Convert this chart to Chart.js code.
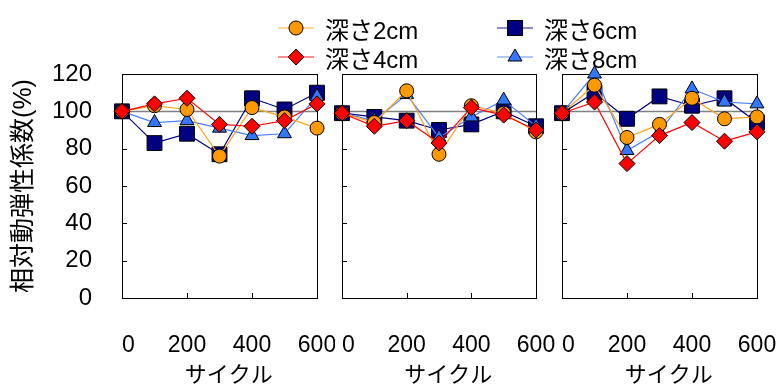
<!DOCTYPE html>
<html>
<head>
<meta charset="utf-8">
<script src="https://cdn.jsdelivr.net/npm/chart.js@4.4.0/dist/chart.umd.min.js"></script>
<style>
  body { margin: 0; background: #fff; }
  #wrap { position: relative; width: 782px; height: 387px; font-family: "Liberation Sans", "Noto Sans CJK JP", sans-serif; }
  .panel { position: absolute; top: 0; }
  .lg { position: absolute; height: 28px; display: flex; align-items: center; font-size: 24px; color: #000; white-space: nowrap; }
  .lg svg { margin-right: 11px; }
</style>
</head>
<body>
<div id="wrap">
  <canvas id="c1" class="panel" style="left:0" width="335" height="387"></canvas>
  <canvas id="c2" class="panel" style="left:322px" width="234" height="387"></canvas>
  <canvas id="c3" class="panel" style="left:542px" width="240" height="387"></canvas>
</div>
<script>
// cycles (x) and tick values
const cycles = [0, 100, 200, 300, 400, 500, 600];
const xTicks = [0, 200, 400, 600];
const yTicks = [0, 20, 40, 60, 80, 100, 120];

const seriesNames = ['深さ2cm', '深さ4cm', '深さ6cm', '深さ8cm'];

// panel 1
const p1Depth2 = [100, 103, 101, 76, 102, 97, 91];
const p1Depth4 = [100, 104, 107, 93, 92, 95, 104];
const p1Depth6 = [100, 83, 88, 77, 107, 101, 110];
const p1Depth8 = [100, 94, 95, 91, 87, 88, 108];

// panel 2
const p2Depth2 = [99, 94, 111, 77, 103, 99, 89];
const p2Depth4 = [99, 92, 95, 83, 102, 98, 90];
const p2Depth6 = [99, 97, 95, 90, 93, 100, 92];
const p2Depth8 = [99, 95, 109, 86, 97, 106, 92];

// panel 3
const p3Depth2 = [99, 114, 86, 93, 107, 96, 97];
const p3Depth4 = [99, 105, 72, 87, 94, 84, 89];
const p3Depth6 = [99, 110, 96, 108, 103, 107, 94];
const p3Depth8 = [99, 120, 79, 89, 112, 105, 104];

const styles = [
  { line: '#ffa31a', fill: '#ff9900', point: 'circle', r: 7, order: 2 },
  { line: '#ff0000', fill: '#ff0000', point: 'rectRot', r: 8, order: 1 },
  { line: '#000080', fill: '#000080', point: 'rect', r: 10.5, order: 4 },
  { line: '#4d80ff', fill: '#3377ff', point: 'triangle', r: 8, order: 3 }
];

const font = '"Liberation Sans", "Noto Sans CJK JP", sans-serif';

// frame, inward ticks and the 100% reference line
const framePlugin = {
  id: 'frame',
  beforeDatasetsDraw(chart) {
    const { ctx, chartArea: a, scales: { x, y } } = chart;
    ctx.save();
    ctx.strokeStyle = '#808080';
    ctx.lineWidth = 1.5;
    const y100 = Math.round(y.getPixelForValue(100)) + 0.5;
    ctx.beginPath();
    ctx.moveTo(a.left, y100);
    ctx.lineTo(a.right, y100);
    ctx.stroke();

    ctx.strokeStyle = '#000';
    ctx.lineWidth = 1;
    ctx.strokeRect(Math.round(a.left) + 0.5, Math.round(a.top) + 0.5, Math.round(a.right - a.left), Math.round(a.bottom - a.top));
    ctx.beginPath();
    yTicks.forEach(v => {
      const py = Math.round(y.getPixelForValue(v)) + 0.5;
      ctx.moveTo(a.left, py);
      ctx.lineTo(a.left + 5, py);
    });
    xTicks.forEach(v => {
      const px = Math.round(x.getPixelForValue(v)) + 0.5;
      ctx.moveTo(px, a.bottom);
      ctx.lineTo(px, a.bottom - 5);
    });
    ctx.stroke();
    ctx.restore();
  }
};

function makePanel(id, values, showY, padLeft, padRight) {
  const datasets = values.map((vals, i) => ({
    label: seriesNames[i],
    data: cycles.map((c, j) => ({ x: c, y: vals[j] })),
    borderColor: styles[i].line,
    backgroundColor: styles[i].fill,
    pointBackgroundColor: styles[i].fill,
    pointBorderColor: '#000',
    pointBorderWidth: 1,
    pointStyle: styles[i].point,
    pointRadius: styles[i].r,
    pointHoverRadius: styles[i].r,
    borderWidth: 1.2,
    order: styles[i].order,
    tension: 0,
    clip: false
  }));

  return new Chart(document.getElementById(id), {
    type: 'line',
    data: { datasets },
    plugins: [framePlugin],
    options: {
      responsive: false,
      animation: false,
      layout: { padding: { top: 74, left: padLeft, right: padRight, bottom: 0 } },
      plugins: { legend: { display: false }, tooltip: { enabled: false } },
      scales: {
        x: {
          type: 'linear',
          min: 0,
          max: 600,
          grid: { display: false },
          border: { display: false },
          afterFit: s => { s.height = 89; s.paddingLeft = 0; s.paddingRight = 0; },
          afterBuildTicks: s => { s.ticks = xTicks.map(v => ({ value: v })); },
          ticks: {
            color: '#000', padding: 26, maxRotation: 0, autoSkip: false,
            font: { family: font, size: 23 },
            // the "0" sits a little right of the axis in the original
            callback: v => (v === 0 ? '  0' : String(v))
          },
          title: { display: true, text: '   サイクル', color: '#000', font: { family: font, size: 22, lineHeight: 1 }, padding: { top: 0, bottom: 0 } }
        },
        y: {
          display: showY,
          min: 0,
          max: 120,
          grid: { display: false },
          border: { display: false },
          afterFit: s => {
            s.width = showY ? 122 : 0;
            s.paddingTop = 0;
            s.paddingBottom = 0;
          },
          afterBuildTicks: s => { s.ticks = yTicks.map(v => ({ value: v })); },
          ticks: { color: '#000', padding: 22, font: { family: font, size: 24 } },
          title: { display: true, text: '相対動弾性係数(%)', color: '#000', font: { family: font, size: 25, lineHeight: 1 }, padding: { top: 12, bottom: 0 } }
        }
      }
    }
  });
}

makePanel('c1', [p1Depth2, p1Depth4, p1Depth6, p1Depth8], true, 0, 18);
makePanel('c2', [p2Depth2, p2Depth4, p2Depth6, p2Depth8], false, 20, 20);
makePanel('c3', [p3Depth2, p3Depth4, p3Depth6, p3Depth8], false, 20, 25);

// legend (2 columns)
function markerSvg(st) {
  const c = 'fill="' + st.fill + '" stroke="#000" stroke-width="1"';
  let m;
  if (st.point === 'circle') m = '<circle cx="18" cy="10" r="7" ' + c + '/>';
  else if (st.point === 'rectRot') m = '<polygon points="10,10 18,2 26,10 18,18" ' + c + '/>';
  else if (st.point === 'rect') m = '<rect x="10.5" y="2.5" width="15" height="15" ' + c + '/>';
  else m = '<polygon points="18,2 25,14 11,14" ' + c + '/>';
  return '<svg width="36" height="20"><line x1="0" y1="10" x2="36" y2="10" stroke="' + st.line + '" stroke-opacity="0.6" stroke-width="1.5"/>' + m + '</svg>';
}
const legendPos = [[278, 14], [278, 43], [497, 14], [497, 43]];
const wrap = document.getElementById('wrap');
seriesNames.forEach((name, i) => {
  const d = document.createElement('div');
  d.className = 'lg';
  d.style.left = legendPos[i][0] + 'px';
  d.style.top = legendPos[i][1] + 'px';
  d.innerHTML = markerSvg(styles[i]) + '<span>' + name + '</span>';
  wrap.appendChild(d);
});
</script>
</body>
</html>
